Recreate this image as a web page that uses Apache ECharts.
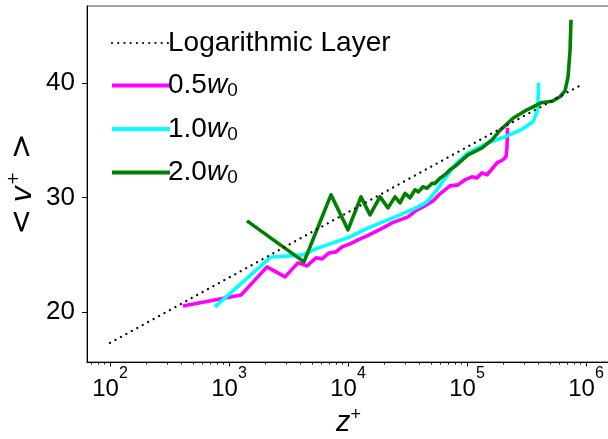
<!DOCTYPE html>
<html>
<head>
<meta charset="utf-8">
<script src="https://cdn.jsdelivr.net/npm/echarts@6/dist/echarts.min.js"></script>
<style>
  html, body { margin: 0; padding: 0; background: #fff; }
  #chart { width: 608px; height: 439px; }
</style>
</head>
<body>
<div id="chart"></div>
<script>
// Mean velocity profile <v+> against wall distance z+ for three wall widths.
const FONT = '"Liberation Sans", Arial, Helvetica, sans-serif';
const MATH_FONT = '"DejaVu Sans", sans-serif';

// Reference log-law line
const logLayerZ = [100, 1000, 10000, 100000, 944000];
const logLayerV = [17.3, 23.0, 28.7, 34.4, 39.9];

// 0.5 w0
const w05Z = [410, 1262, 2085, 2958, 3802, 4520, 5383, 6053, 6925, 7925, 8912, 10400, 12140, 14450, 16870,
  19690, 23440, 27360, 31940, 38020, 44380, 51800, 59290, 71940, 83960, 96140, 110100, 121300, 133700,
  147300, 165300, 178700, 200800, 212600, 216900, 218900];
const w05V = [20.52, 21.48, 23.93, 23.06, 24.28, 24.02, 24.72, 24.63, 25.15, 25.24, 25.68, 25.94, 26.29, 26.64, 26.99,
  27.34, 27.77, 28.03, 28.30, 28.91, 29.26, 29.69, 30.31, 31.00, 31.09, 31.53, 31.79, 31.70, 32.14,
  31.97, 32.58, 33.01, 33.28, 33.54, 34.41, 36.07];

// 1.0 w0
const w10Z = [762, 2254, 2844, 4188, 5486, 7476, 10400, 14450, 19690, 27360, 38020, 46120, 55980, 64080,
  71940, 79240, 101900, 150000, 208400, 289700, 358700, 387500, 395400, 399300];
const w10V = [20.44, 24.80, 24.85, 24.98, 25.55, 26.03, 26.55, 27.29, 27.86, 28.47, 29.13, 29.61, 30.66, 31.53,
  32.23, 32.84, 33.89, 34.76, 35.28, 35.94, 36.59, 37.47, 38.52, 40.00];

// 2.0 w0
const w20Z = [1416, 4266, 7194, 10000, 12850, 15310, 18580, 21680, 24840, 27360, 30140, 33200, 36570, 39110,
  42660, 46120, 50800, 53830, 59290, 65310, 71940, 79240, 101900, 133700, 162200, 189300, 243600, 319300,
  418600, 517700, 605000, 666500, 706600, 734800, 748200];
const w20V = [27.95, 24.37, 30.22, 27.16, 30.04, 28.47, 30.04, 29.08, 30.04, 29.52, 30.35, 29.96, 30.66, 30.48,
  30.92, 30.79, 31.22, 31.22, 31.66, 31.97, 32.40, 32.71, 33.71, 34.32, 35.02, 35.85, 36.90, 37.64,
  38.25, 38.38, 38.78, 39.30, 40.52, 42.88, 45.50];

// Axis ticks
const xTickValues = [100, 1000, 10000, 100000, 1000000];
const xMinorTicks = [];
for (let e = 1; e <= 5; e++) {
  for (let m = 2; m <= 9; m++) {
    const v = m * Math.pow(10, e);
    if (v > 64 && v < 1.5e6) xMinorTicks.push(v);
  }
}
const yTickValues = [20, 30, 40];

const X_MIN = 64.07, X_MAX = 1.591e6;
const Y_MIN = 15.63, Y_MAX = 46.7;

const pairs = (xs, ys) => xs.map((x, i) => [x, ys[i]]);

const DOTTED = [0.01, 6.2];

const legendRich = {
  n: { fontFamily: FONT, fontSize: 28, color: '#000', lineHeight: 30 },
  i: { fontFamily: FONT, fontSize: 28, fontStyle: 'italic', color: '#000', lineHeight: 30 },
  s: { fontFamily: FONT, fontSize: 19, color: '#000', verticalAlign: 'bottom', lineHeight: 22 }
};
const legendText = {
  'Logarithmic Layer': '{n|Logarithmic Layer}',
  '0.5w0': '{n|0.5}{i|w}{s|0}',
  '1.0w0': '{n|1.0}{i|w}{s|0}',
  '2.0w0': '{n|2.0}{i|w}{s|0}'
};

const chart = echarts.init(document.getElementById('chart'), null, { renderer: 'canvas' });

const gridBox = { left: 87, top: 6, right: -2, bottom: 77, containLabel: false, outerBoundsMode: 'none' };

chart.setOption({
  backgroundColor: '#fff',
  animation: false,
  grid: [
    Object.assign({ show: true, borderColor: '#444', borderWidth: 1 }, gridBox),
    Object.assign({ show: false }, gridBox)
  ],
  legend: {
    orient: 'vertical',
    left: 105,
    top: 24,
    itemWidth: 58,
    itemHeight: 14,
    itemGap: 14.5,
    itemStyle: { opacity: 0 },
    data: [
      { name: 'Logarithmic Layer', lineStyle: { width: 2.2, type: DOTTED, cap: 'round', color: '#000' } },
      { name: '0.5w0', lineStyle: { width: 4, color: '#ff00ff' } },
      { name: '1.0w0', lineStyle: { width: 4, color: '#00ffff' } },
      { name: '2.0w0', lineStyle: { width: 4, color: '#008000' } }
    ],
    formatter: name => legendText[name],
    textStyle: { fontFamily: FONT, fontSize: 28, color: '#000', padding: [0, 0, 0, -7], rich: legendRich }
  },
  xAxis: [
    {
      type: 'log',
      gridIndex: 0,
      min: X_MIN,
      max: X_MAX,
      logBase: 10,
      splitLine: { show: false },
      axisLine: { show: true, onZero: false, lineStyle: { color: '#000', width: 1 } },
      axisTick: { show: true, inside: false, length: 4.5, customValues: xTickValues, lineStyle: { color: '#000', width: 1 } },
      axisLabel: {
        show: true,
        margin: 4,
        customValues: xTickValues,
        formatter: v => '{b|10}{s|' + Math.round(Math.log10(v)) + '}',
        rich: {
          b: { fontFamily: FONT, fontSize: 24, color: '#000', lineHeight: 46 },
          s: { fontFamily: FONT, fontSize: 16, color: '#000', verticalAlign: 'top', lineHeight: 16 }
        }
      },
      name: '{i|z}{s|+}',
      nameLocation: 'middle',
      nameGap: 31,
      nameTextStyle: {
        rich: {
          i: { fontFamily: FONT, fontSize: 29, fontStyle: 'italic', color: '#000', lineHeight: 34 },
          s: { fontFamily: FONT, fontSize: 18, color: '#000', verticalAlign: 'top', lineHeight: 18 }
        }
      }
    },
    {
      type: 'log',
      gridIndex: 1,
      min: X_MIN,
      max: X_MAX,
      logBase: 10,
      splitLine: { show: false },
      axisLine: { show: false },
      axisLabel: { show: false },
      axisTick: { show: true, inside: false, length: 2.5, customValues: xMinorTicks, lineStyle: { color: '#000', width: 1 } }
    }
  ],
  yAxis: [
    {
      type: 'value',
      gridIndex: 0,
      min: Y_MIN,
      max: Y_MAX,
      splitLine: { show: false },
      axisLine: { show: true, onZero: false, lineStyle: { color: '#000', width: 1 } },
      axisTick: { show: true, inside: false, length: 5, customValues: yTickValues, lineStyle: { color: '#000', width: 1 } },
      axisLabel: { show: true, margin: 12, customValues: yTickValues, fontFamily: FONT, fontSize: 26, color: '#000' },
      name: '{n|<}{g1| }{i|v}{s|+}{g2| }{n|>}',
      nameLocation: 'middle',
      nameGap: 47,
      nameMoveOverlap: false,
      nameTextStyle: {
        rich: {
          n: { fontFamily: MATH_FONT, fontSize: 31, color: '#000', lineHeight: 34 },
          i: { fontFamily: MATH_FONT, fontSize: 29, fontStyle: 'italic', color: '#000', lineHeight: 34 },
          s: { fontFamily: MATH_FONT, fontSize: 16, color: '#000', verticalAlign: 'top', lineHeight: 16 },
          g1: { fontFamily: MATH_FONT, fontSize: 20, lineHeight: 34 },
          g2: { fontFamily: MATH_FONT, fontSize: 40, lineHeight: 34 }
        }
      }
    },
    {
      type: 'value',
      gridIndex: 1,
      min: Y_MIN,
      max: Y_MAX,
      show: false
    }
  ],
  series: [
    {
      name: 'Logarithmic Layer',
      type: 'line',
      xAxisIndex: 0, yAxisIndex: 0,
      data: pairs(logLayerZ, logLayerV),
      symbol: 'none',
      lineStyle: { color: '#000', width: 2.3, type: DOTTED, cap: 'round' },
      itemStyle: { color: '#000' },
      z: 5
    },
    {
      name: '0.5w0',
      type: 'line',
      xAxisIndex: 0, yAxisIndex: 0,
      data: pairs(w05Z, w05V),
      symbol: 'none',
      lineStyle: { color: '#ff00ff', width: 3.6, join: 'round' },
      itemStyle: { color: '#ff00ff' },
      z: 2
    },
    {
      name: '1.0w0',
      type: 'line',
      xAxisIndex: 0, yAxisIndex: 0,
      data: pairs(w10Z, w10V),
      symbol: 'none',
      lineStyle: { color: '#00ffff', width: 3.6, join: 'round' },
      itemStyle: { color: '#00ffff' },
      z: 3
    },
    {
      name: '2.0w0',
      type: 'line',
      xAxisIndex: 0, yAxisIndex: 0,
      data: pairs(w20Z, w20V),
      symbol: 'none',
      lineStyle: { color: '#008000', width: 3.6, join: 'round' },
      itemStyle: { color: '#008000' },
      z: 4
    }
  ]
});
</script>
</body>
</html>
